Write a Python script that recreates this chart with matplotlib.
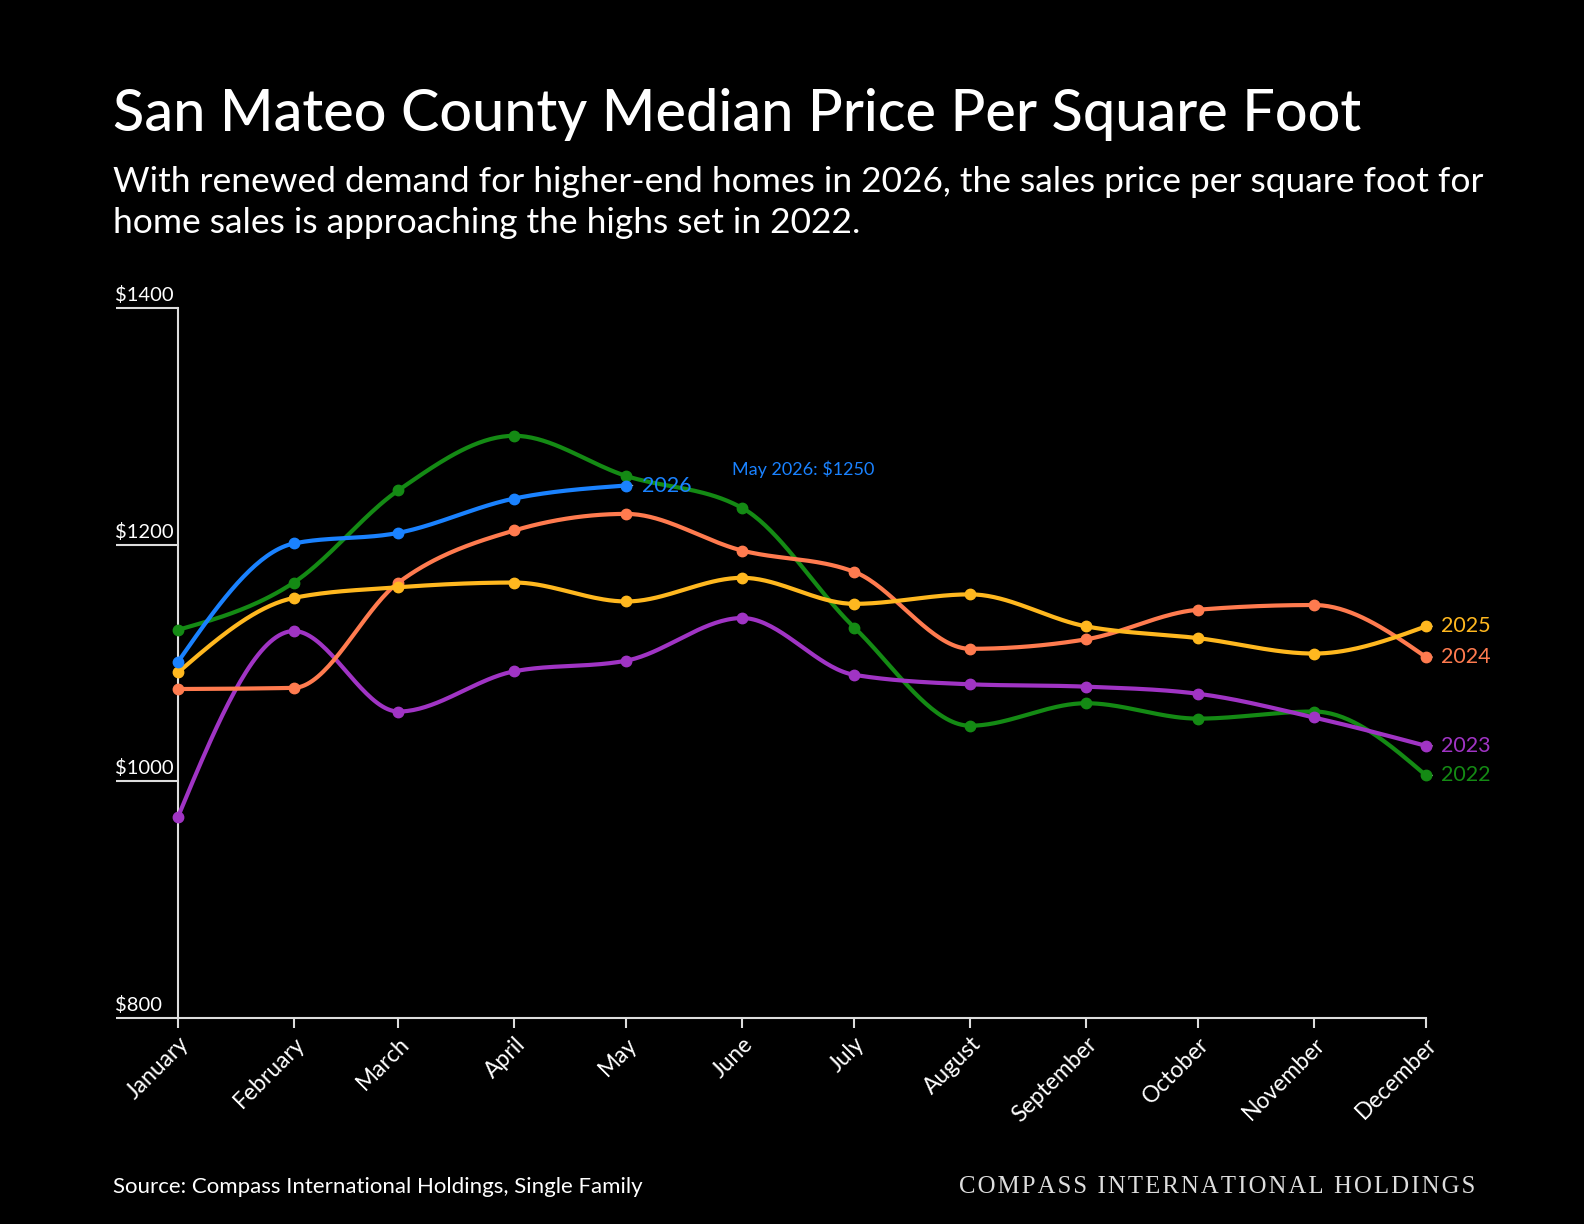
import numpy as np
import pandas as pd
import matplotlib
matplotlib.use("Agg")
import matplotlib.pyplot as plt
import matplotlib.dates as mdates
from matplotlib.transforms import blended_transform_factory

# month labels and positions (time scale, first of each month)
months = ["January", "February", "March", "April", "May", "June", "July",
          "August", "September", "October", "November", "December"]
month_starts = pd.date_range("2025-01-01", periods=12, freq="MS")

# median price per square foot
ppsf_2022 = [1128, 1168, 1246, 1292, 1258, 1231, 1130, 1047, 1066, 1053, 1059, 1005]
ppsf_2023 = [970, 1127, 1059, 1093, 1102, 1138, 1090, 1082, 1080, 1074, 1054, 1030]
ppsf_2024 = [1078, 1079, 1168, 1212, 1226, 1195, 1177, 1112, 1120, 1145, 1149, 1105]
ppsf_2025 = [1092, 1155, 1164, 1168, 1152, 1172, 1150, 1158, 1131, 1121, 1108, 1131]
ppsf_2026 = [1101, 1201, 1210, 1239, 1250]

years = ["2022", "2023", "2024", "2025", "2026"]
colors = ["#148a14", "#a034c4", "#ff7b4f", "#ffb81f", "#1a82ff"]

y_ticks = [800, 1000, 1200, 1400]
y_labels = ["$800", "$1000", "$1200", "$1400"]

title = "San Mateo County Median Price Per Square Foot"
subtitle_lines = ["With renewed demand for higher-end homes in 2026, the sales price per square foot for",
                  "home sales is approaching the highs set in 2022."]
source = "Source: Compass International Holdings, Single Family"
brand = "COMPASS INTERNATIONAL HOLDINGS"

FONT = ["Lato", "DejaVu Sans"]


def monotone_x(x, y, n=40):
    """smooth curve through the points, same idea as d3 curveMonotoneX"""
    x = np.asarray(x, dtype=float)
    y = np.asarray(y, dtype=float)
    h = np.diff(x)
    s = np.diff(y) / h
    t = np.zeros(len(x))
    for i in range(1, len(x) - 1):
        p = (s[i - 1] * h[i] + s[i] * h[i - 1]) / (h[i - 1] + h[i])
        t[i] = (np.sign(s[i - 1]) + np.sign(s[i])) * min(abs(s[i - 1]), abs(s[i]), 0.5 * abs(p))
    t[0] = (3 * s[0] - t[1]) / 2
    t[-1] = (3 * s[-1] - t[-2]) / 2
    xs, ys = [], []
    for i in range(len(x) - 1):
        u = np.linspace(0, 1, n)
        h00 = 2 * u**3 - 3 * u**2 + 1
        h10 = u**3 - 2 * u**2 + u
        h01 = -2 * u**3 + 3 * u**2
        h11 = u**3 - u**2
        xs.append(x[i] + u * h[i])
        ys.append(h00 * y[i] + h10 * h[i] * t[i] + h01 * y[i + 1] + h11 * h[i] * t[i + 1])
    return np.concatenate(xs), np.concatenate(ys)


fig = plt.figure(figsize=(15.84, 12.24), dpi=100, facecolor="black")
ax = fig.add_axes([178 / 1584, 1 - 1018 / 1224, (1426 - 178) / 1584, (1018 - 308) / 1224])
ax.set_facecolor("black")

xnum = mdates.date2num(month_starts)
series = [ppsf_2022, ppsf_2023, ppsf_2024, ppsf_2025, ppsf_2026]
for vals, name, col in zip(series, years, colors):
    xv = xnum[:len(vals)]
    cx, cy = monotone_x(xv, vals)
    ax.plot(cx, cy, color=col, lw=3, solid_capstyle="round", clip_on=False, zorder=3)
    ax.plot(xv, vals, "o", color=col, ms=7.5, clip_on=False, zorder=4)
    # end label with small grey dash
    ax.annotate("", xy=(xv[-1], vals[-1]), xytext=(4.5, 0), textcoords="offset points",
                arrowprops=dict(arrowstyle="-", color="#bbbbbb", lw=1,
                                shrinkA=0, shrinkB=0, patchA=None), zorder=2)
    ax.annotate(name, xy=(xv[-1], vals[-1]), xytext=(11, 0), textcoords="offset points",
                color=col, fontsize=15.5, va="center", ha="left", family=FONT,
                annotation_clip=False)

# callout for latest value
ax.annotate(f"May 2026: ${ppsf_2026[-1]}", xy=(xnum[4], ppsf_2026[-1]), xytext=(76, 12),
            textcoords="offset points", color=colors[4], fontsize=13, va="center",
            ha="left", family=FONT)

ax.set_xlim(xnum[0], xnum[-1])
ax.set_ylim(800, 1400)

ax.set_xticks(xnum)
ax.set_xticklabels(months, rotation=45, ha="right", rotation_mode="anchor",
                   color="white", fontsize=16.5, family=FONT)
ax.tick_params(axis="x", colors="#dddddd", length=7, width=1.5, pad=4, labelcolor="white")

ax.set_yticks(y_ticks)
ax.set_yticklabels([])
ax.tick_params(axis="y", colors="#dddddd", length=44.6, width=1.5)
trans = blended_transform_factory(ax.transAxes, ax.transData)
for v, lab in zip(y_ticks, y_labels):
    ax.annotate(lab, xy=(-0.0505, v), xycoords=trans, xytext=(0, 5), textcoords="offset points",
                color="white", fontsize=14.5, ha="left", va="baseline", family=FONT,
                annotation_clip=False)

for side in ["top", "right"]:
    ax.spines[side].set_visible(False)
for side in ["left", "bottom"]:
    ax.spines[side].set_color("#dddddd")
    ax.spines[side].set_linewidth(1.5)

fig.text(113 / 1584, 1 - 131 / 1224, title, color="white", fontsize=41.5, fontweight="medium",
         family=FONT, va="baseline", ha="left")
for line, base in zip(subtitle_lines, [192, 233]):
    fig.text(113 / 1584, 1 - base / 1224, line, color="white", fontsize=25.5, family=FONT,
             va="baseline", ha="left")
fig.text(113 / 1584, 1 - 1193 / 1224, source, color="white", fontsize=16, family=FONT,
         va="baseline", ha="left")
fig.text(1475 / 1584, 1 - 1193 / 1224, "\u200a".join(brand), color="#dddddd", fontsize=17.8,
         family=["Liberation Serif", "DejaVu Serif"], va="baseline", ha="right")

fig.savefig("out.png", dpi=100, facecolor="black")
